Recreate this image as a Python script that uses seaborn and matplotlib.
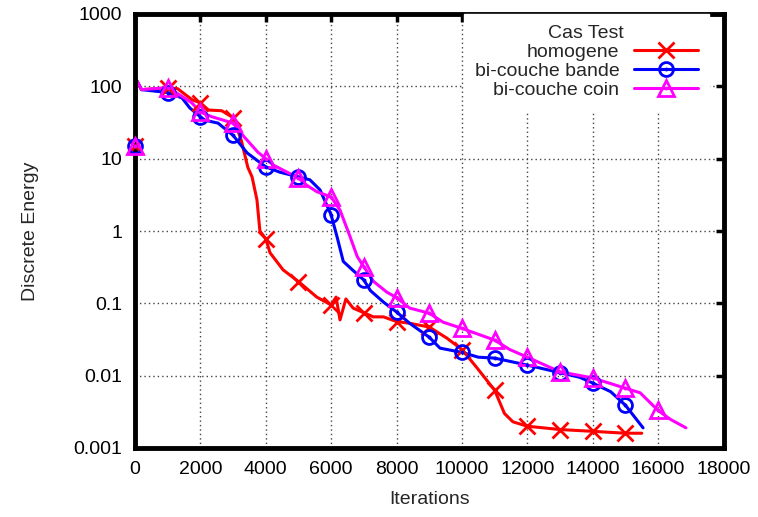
import matplotlib
matplotlib.use("Agg")
import matplotlib.pyplot as plt
import seaborn as sns
import numpy as np
from matplotlib.ticker import FixedLocator, NullLocator
from matplotlib.legend_handler import HandlerTuple

# ---------------- data ----------------
hom_iter = [0, 30, 200, 1000, 1300, 1750, 2000, 2250, 2650, 3000, 3250, 3450,
            3580, 3730, 3820, 4000, 4130, 4530, 5000, 5560, 6000, 6150, 6270,
            6450, 6670, 7000, 7290, 7600, 8000, 8400, 9000, 9540, 10000, 10450,
            11000, 11300, 11560, 12000, 13000, 14000, 15000, 15500]
hom_energy = [15, 125, 90, 95, 93, 65, 59, 47, 46, 37, 18, 7.6,
              5.6, 2.7, 1.0, 0.78, 0.5, 0.29, 0.2, 0.122, 0.095, 0.122, 0.059,
              0.115, 0.086, 0.074, 0.065, 0.065, 0.056, 0.053, 0.047, 0.033, 0.023, 0.013,
              0.0063, 0.003, 0.0023, 0.0020, 0.0018, 0.0017, 0.0016, 0.0016]

band_iter = [0, 30, 200, 1000, 1440, 1680, 2000, 2140, 2540, 3000, 3430, 4000,
             4430, 5000, 5350, 5660, 6000, 6180, 6370, 6650, 7000, 7200, 7600,
             8000, 8400, 9000, 9330, 10000, 10500, 11000, 12000, 13000, 13600,
             14000, 14550, 15000, 15540]
band_energy = [15, 125, 90, 82, 69, 50, 38, 34, 31, 21, 12, 7.7,
               6.5, 5.6, 5.1, 3.7, 1.66, 0.83, 0.38, 0.29, 0.21, 0.15, 0.104,
               0.076, 0.053, 0.034, 0.024, 0.021, 0.018, 0.0175, 0.014, 0.011, 0.0095,
               0.0079, 0.006, 0.0039, 0.0019]

coin_iter = [0, 30, 200, 1000, 1370, 1740, 2000, 2350, 3000, 3340, 3750, 4000,
             4220, 5000, 5250, 5560, 6000, 6270, 6580, 6800, 7000, 7300, 7700,
             8000, 8400, 9000, 9420, 10000, 11000, 11460, 12000, 13000, 14000,
             15000, 15450, 16000, 16370, 16850]
coin_energy = [15, 125, 90, 96, 76, 59, 44, 38, 31, 20, 12.4, 10,
               8.2, 5.4, 4.3, 3.5, 2.95, 1.95, 0.83, 0.44, 0.32, 0.2, 0.143,
               0.12, 0.086, 0.073, 0.055, 0.045, 0.031, 0.023, 0.018, 0.0113, 0.0093,
               0.0067, 0.0058, 0.0033, 0.0025, 0.0019]

series_labels = ["homogene", "bi-couche bande", "bi-couche coin"]
legend_title = "Cas Test"
x_ticks = [0, 2000, 4000, 6000, 8000, 10000, 12000, 14000, 16000, 18000]
y_ticks = [0.001, 0.01, 0.1, 1, 10, 100, 1000]
y_tick_labels = ["0.001", "0.01", "0.1", "1", "10", "100", "1000"]
x_label = "Iterations"
y_label = "Discrete Energy"

# ---------------- style ----------------
sns.set_style("white")
plt.rcParams["font.family"] = ["Liberation Sans", "DejaVu Sans"]
FS = 14

fig = plt.figure(figsize=(7.58, 5.17), dpi=100)
ax = fig.add_axes([135 / 758, 1 - 448 / 517, (723.5 - 135) / 758, (448 - 14) / 517])

colors = ["#ff0000", "#0000ff", "#ff00ff"]
markers = ["x", "o", "^"]
msizes = [11, 10, 11]
all_iter = [hom_iter, band_iter, coin_iter]
all_energy = [hom_energy, band_energy, coin_energy]

handles = []
for k, (it, en, col, mk, ms, lab) in enumerate(zip(all_iter, all_energy, colors, markers,
                                                    msizes, series_labels)):
    every = [i for i, v in enumerate(it) if v % 1000 == 0]
    # line (below the frame so the start segment at x=0 is hidden by the spine)
    sns.lineplot(x=it, y=en, ax=ax, color=col, linewidth=2.2, sort=False,
                 estimator=None, legend=False, zorder=2 + 0.01 * k)
    line = ax.get_lines()[-1]
    # markers every 1000 iterations, drawn above the frame
    sns.lineplot(x=it, y=en, ax=ax, color=col, marker=mk, markersize=ms,
                 markevery=every, markerfacecolor="none", markeredgecolor=col,
                 markeredgewidth=2.0, linestyle="none", sort=False, estimator=None,
                 legend=False, zorder=4 + 0.01 * k, clip_on=False)
    mline = ax.get_lines()[-1]
    h = [line, mline]
    if mk != "x":
        sns.lineplot(x=it, y=en, ax=ax, color=col, marker="o", markersize=2.8,
                     markevery=every, linestyle="none", markeredgewidth=0,
                     sort=False, estimator=None, legend=False,
                     zorder=4.5 + 0.01 * k, clip_on=False)
        h.append(ax.get_lines()[-1])
    handles.append(tuple(h))

ax.set_yscale("log")
ax.set_xlim(0, 18000)
ax.set_ylim(0.001, 1000)
ax.xaxis.set_major_locator(FixedLocator(x_ticks))
ax.yaxis.set_major_locator(FixedLocator(y_ticks))
ax.yaxis.set_minor_locator(NullLocator())
ax.set_yticklabels(y_tick_labels)
ax.set_xticklabels([str(v) for v in x_ticks])

ax.grid(True, which="major", color="#444444", linestyle=(0, (1, 2.2)), linewidth=1.0)
ax.set_axisbelow(True)

for sp in ax.spines.values():
    sp.set_linewidth(3.5)
    sp.set_color("black")
    sp.set_visible(True)
    sp.set_zorder(3)

ax.tick_params(axis="both", which="major", direction="in", length=6, width=2.5,
               top=True, right=True, labelsize=FS, colors="black", pad=9)

ax.set_xlabel(x_label, fontsize=FS, labelpad=10)
ax.set_ylabel(y_label, fontsize=FS, labelpad=25)

leg = ax.legend(handles, series_labels, title=legend_title, loc="upper right",
                bbox_to_anchor=(0.975, 1.0), borderaxespad=0.0,
                markerfirst=False, frameon=True, fontsize=FS, title_fontsize=FS,
                handlelength=3.3, handletextpad=0.75, labelspacing=0.08,
                borderpad=0.55, numpoints=1,
                handler_map={tuple: HandlerTuple(ndivide=1)})
leg.get_frame().set_facecolor("white")
leg.get_frame().set_edgecolor("white")
leg.get_frame().set_alpha(1.0)
leg.get_frame().set_boxstyle("square", pad=0)
leg.set_zorder(6)

fig.savefig("out.png", dpi=100)
